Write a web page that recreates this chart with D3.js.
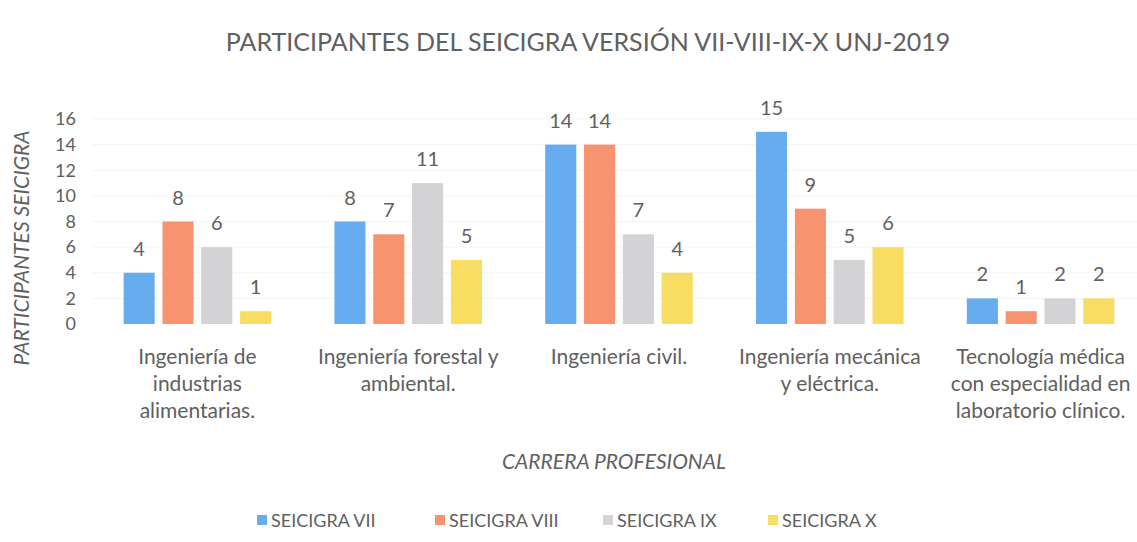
<!DOCTYPE html>
<html>
<head>
<meta charset="utf-8">
<script src="https://cdn.jsdelivr.net/npm/d3@7.9.0/dist/d3.min.js"></script>
<style>
  body { margin: 0; background: #fff; }
  svg text { font-family: Lato, "Open Sans", sans-serif; fill: #606060; }
</style>
</head>
<body>
<svg id="chart" width="1137" height="542"></svg>
<script>
// data
const carreras = [
  ['Ingeniería de', 'industrias', 'alimentarias.'],
  ['Ingeniería forestal y', 'ambiental.'],
  ['Ingeniería civil.'],
  ['Ingeniería mecánica', 'y eléctrica.'],
  ['Tecnología médica', 'con especialidad en', 'laboratorio clínico.']
];
const series = ['SEICIGRA VII', 'SEICIGRA VIII', 'SEICIGRA IX', 'SEICIGRA X'];
const seicigraVII = [4, 8, 14, 15, 2];
const seicigraVIII = [8, 7, 14, 9, 1];
const seicigraIX = [6, 11, 7, 5, 2];
const seicigraX = [1, 5, 4, 6, 2];
const yTicks = [0, 2, 4, 6, 8, 10, 12, 14, 16];
const colors = ['#66acee', '#f7936f', '#d3d3d5', '#f7dd62'];

const values = [seicigraVII, seicigraVIII, seicigraIX, seicigraX];
const table = carreras.map((c, i) => ({ idx: i, vals: values.map(v => v[i]) }));

const svg = d3.select('#chart');

// scales
const y = d3.scaleLinear().domain([0, 16]).range([324, 119]);
const x0 = d3.scaleBand()
  .domain(d3.range(carreras.length))
  .range([92, 1146])
  .paddingInner(0.3)
  .paddingOuter(0.15);
const x1 = d3.scaleBand()
  .domain(d3.range(series.length))
  .range([0, x0.bandwidth()])
  .paddingInner(0.2);

// faint gridlines
svg.append('g')
  .selectAll('line')
  .data(yTicks.slice(1))
  .join('line')
  .attr('x1', 92).attr('x2', 1137)
  .attr('y1', d => y(d)).attr('y2', d => y(d))
  .attr('stroke', '#f5f5f5');

// y axis labels
const yAxis = svg.append('g')
  .attr('transform', 'translate(76,0)')
  .call(d3.axisLeft(y).tickValues(yTicks).tickSize(0).tickPadding(0));
yAxis.select('.domain').remove();
yAxis.selectAll('text')
  .style('font-size', '18px')
  .style('font-family', 'Lato, sans-serif')
  .attr('fill', '#666');

// bars
const groups = svg.append('g')
  .selectAll('g')
  .data(table)
  .join('g')
  .attr('transform', d => `translate(${x0(d.idx)},0)`);

groups.selectAll('rect')
  .data(d => d.vals.map((v, s) => ({ v, s })))
  .join('rect')
  .attr('x', d => x1(d.s))
  .attr('width', x1.bandwidth())
  .attr('y', d => y(d.v))
  .attr('height', d => y(0) - y(d.v))
  .attr('fill', d => colors[d.s]);

groups.selectAll('text.lbl')
  .data(d => d.vals.map((v, s) => ({ v, s })))
  .join('text')
  .attr('class', 'lbl')
  .attr('x', d => x1(d.s) + x1.bandwidth() / 2)
  .attr('y', d => y(d.v) - 17)
  .attr('text-anchor', 'middle')
  .style('font-size', '20px')
  .text(d => d.v);

// category labels
svg.append('g')
  .selectAll('text')
  .data(carreras)
  .join('text')
  .attr('x', (d, i) => x0(i) + x0.bandwidth() / 2)
  .attr('y', 364)
  .attr('text-anchor', 'middle')
  .style('font-size', '21px')
  .each(function (lines) {
    d3.select(this).selectAll('tspan')
      .data(lines)
      .join('tspan')
      .attr('x', d3.select(this).attr('x'))
      .attr('dy', (d, j) => j === 0 ? 0 : 27)
      .text(d => d);
  });

// title
svg.append('text')
  .attr('x', 588).attr('y', 51)
  .attr('text-anchor', 'middle')
  .style('font-size', '25px')
  .text('PARTICIPANTES DEL SEICIGRA VERSIÓN VII-VIII-IX-X UNJ-2019');

// axis titles
svg.append('text')
  .attr('transform', 'translate(29,248) rotate(-90)')
  .attr('text-anchor', 'middle')
  .style('font-size', '21px')
  .style('font-style', 'italic')
  .text('PARTICIPANTES SEICIGRA');

svg.append('text')
  .attr('x', 614).attr('y', 469)
  .attr('text-anchor', 'middle')
  .style('font-size', '21px')
  .style('font-style', 'italic')
  .text('CARRERA PROFESIONAL');

// legend
const legendX = [257, 435, 603, 768];
const legend = svg.append('g')
  .selectAll('g')
  .data(series)
  .join('g')
  .attr('transform', (d, i) => `translate(${legendX[i]},515)`);
legend.append('rect')
  .attr('width', 10).attr('height', 10)
  .attr('fill', (d, i) => colors[i]);
legend.append('text')
  .attr('x', 14).attr('y', 12)
  .style('font-size', '18px')
  .text(d => d);
</script>
</body>
</html>
